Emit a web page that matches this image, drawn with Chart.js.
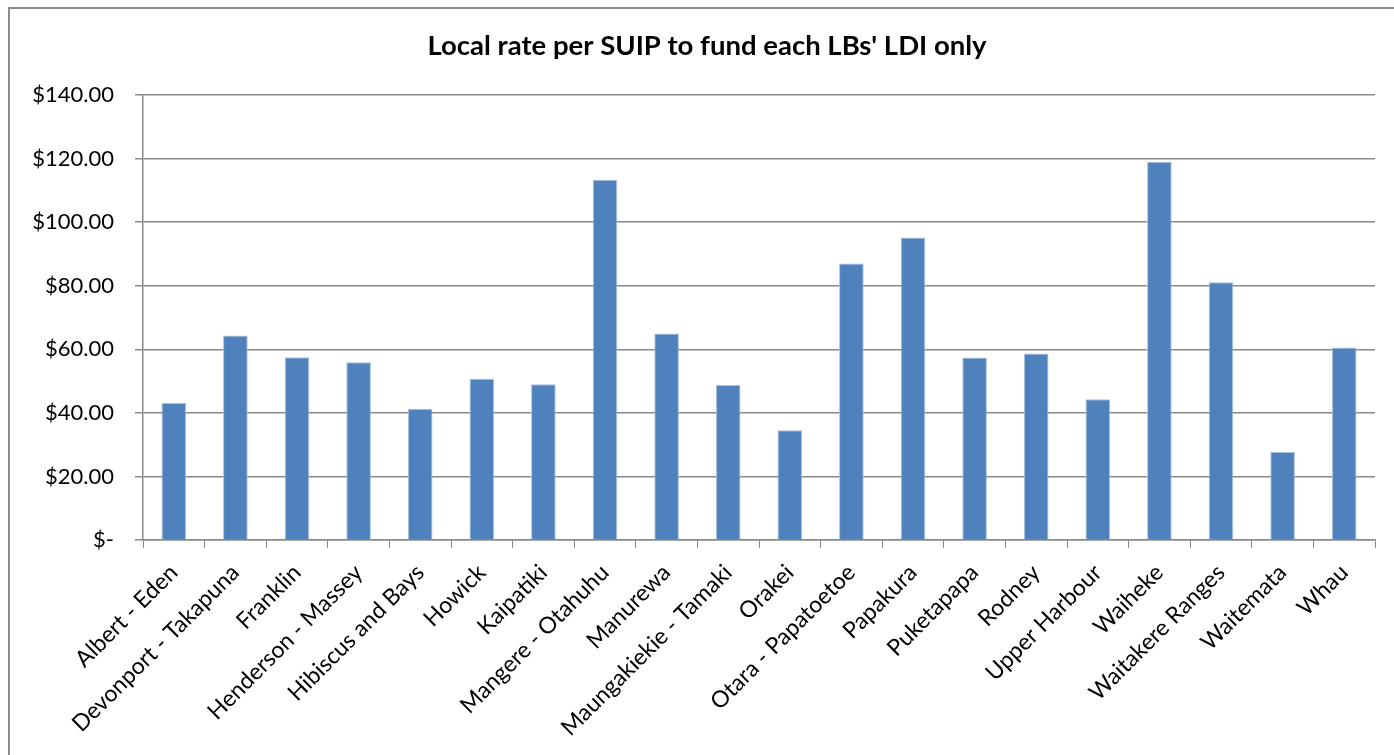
<!DOCTYPE html>
<html>
<head>
<meta charset="utf-8">
<script src="https://cdn.jsdelivr.net/npm/chart.js@4/dist/chart.umd.min.js"></script>
<style>
  html, body { margin: 0; padding: 0; background: #ffffff; }
  #wrap { position: relative; width: 1394px; height: 755px; overflow: hidden; }
  #frame { position: absolute; left: 8px; top: 7px; width: 1400px; height: 800px;
           border-left: 2px solid #8c8c8c; border-top: 2px solid #8c8c8c; pointer-events: none; }
  canvas { position: absolute; left: 0; top: 0; }
</style>
</head>
<body>
<div id="wrap">
  <canvas id="chart" width="1394" height="755"></canvas>
  <div id="frame"></div>
</div>
<script>
// Local boards
const boards = [
  "Albert - Eden", "Devonport - Takapuna", "Franklin", "Henderson - Massey",
  "Hibiscus and Bays", "Howick", "Kaipatiki", "Mangere - Otahuhu", "Manurewa",
  "Maungakiekie - Tamaki", "Orakei", "Otara - Papatoetoe", "Papakura",
  "Puketapapa", "Rodney", "Upper Harbour", "Waiheke", "Waitakere Ranges",
  "Waitemata", "Whau"
];

// Local rate per SUIP ($)
const ratePerSuip = [
  43.1, 64.3, 57.5, 55.9, 41.3, 50.7, 49.0, 113.3, 65.0, 48.8,
  34.5, 87.0, 95.2, 57.4, 58.7, 44.3, 119.0, 81.1, 27.7, 60.6
];

// Value axis
const yMin = 0;
const yMax = 140;
const yStep = 20;

const chartTitle = "Local rate per SUIP to fund each LBs' LDI only";

function money(v) {
  return v === 0 ? "$-" : "$" + v.toFixed(2);
}

const gridGrey = "#898989";
const fontFamily = "Lato, 'Open Sans', sans-serif";

// Centre the title over the framed area rather than the full canvas
const titleShift = {
  id: "titleShift",
  afterLayout(chart) {
    if (chart.titleBlock) chart.titleBlock.left += 39;
  }
};

new Chart(document.getElementById("chart"), {
  type: "bar",
  data: {
    labels: boards,
    datasets: [{
      data: ratePerSuip,
      backgroundColor: "#4F81BD",
      borderColor: "#a9c1e0",
      borderWidth: { top: 1, left: 1, right: 1, bottom: 0 },
      barPercentage: 0.4,
      categoryPercentage: 1.0
    }]
  },
  plugins: [titleShift],
  options: {
    responsive: false,
    animation: false,
    layout: { padding: { left: 0, right: 19, top: 0, bottom: 0 } },
    plugins: {
      legend: { display: false },
      tooltip: { enabled: false },
      title: {
        display: true,
        text: chartTitle,
        color: "#000000",
        font: { family: fontFamily, size: 27.5, weight: "bold", lineHeight: 1.2 },
        padding: { top: 30, bottom: 32 }
      }
    },
    scales: {
      x: {
        afterFit(scale) { scale.height = 215; },
        grid: {
          offset: true,
          drawOnChartArea: false,
          drawTicks: true,
          tickLength: 8,
          color: gridGrey,
          lineWidth: 1
        },
        border: { display: true, color: gridGrey, width: 1.5 },
        ticks: {
          autoSkip: false,
          maxRotation: 45,
          minRotation: 45,
          padding: 11,
          color: "#000000",
          font: { family: fontFamily, size: 23 }
        }
      },
      y: {
        min: yMin,
        max: yMax,
        afterFit(scale) { scale.width = 143; },
        grid: {
          color: gridGrey,
          lineWidth: 1.5,
          tickLength: 8,
          drawTicks: true
        },
        border: { display: true, color: gridGrey, width: 1.5 },
        ticks: {
          stepSize: yStep,
          padding: 21,
          color: "#000000",
          font: { family: fontFamily, size: 22 },
          callback: (v) => money(v)
        }
      }
    }
  }
});
</script>
</body>
</html>
